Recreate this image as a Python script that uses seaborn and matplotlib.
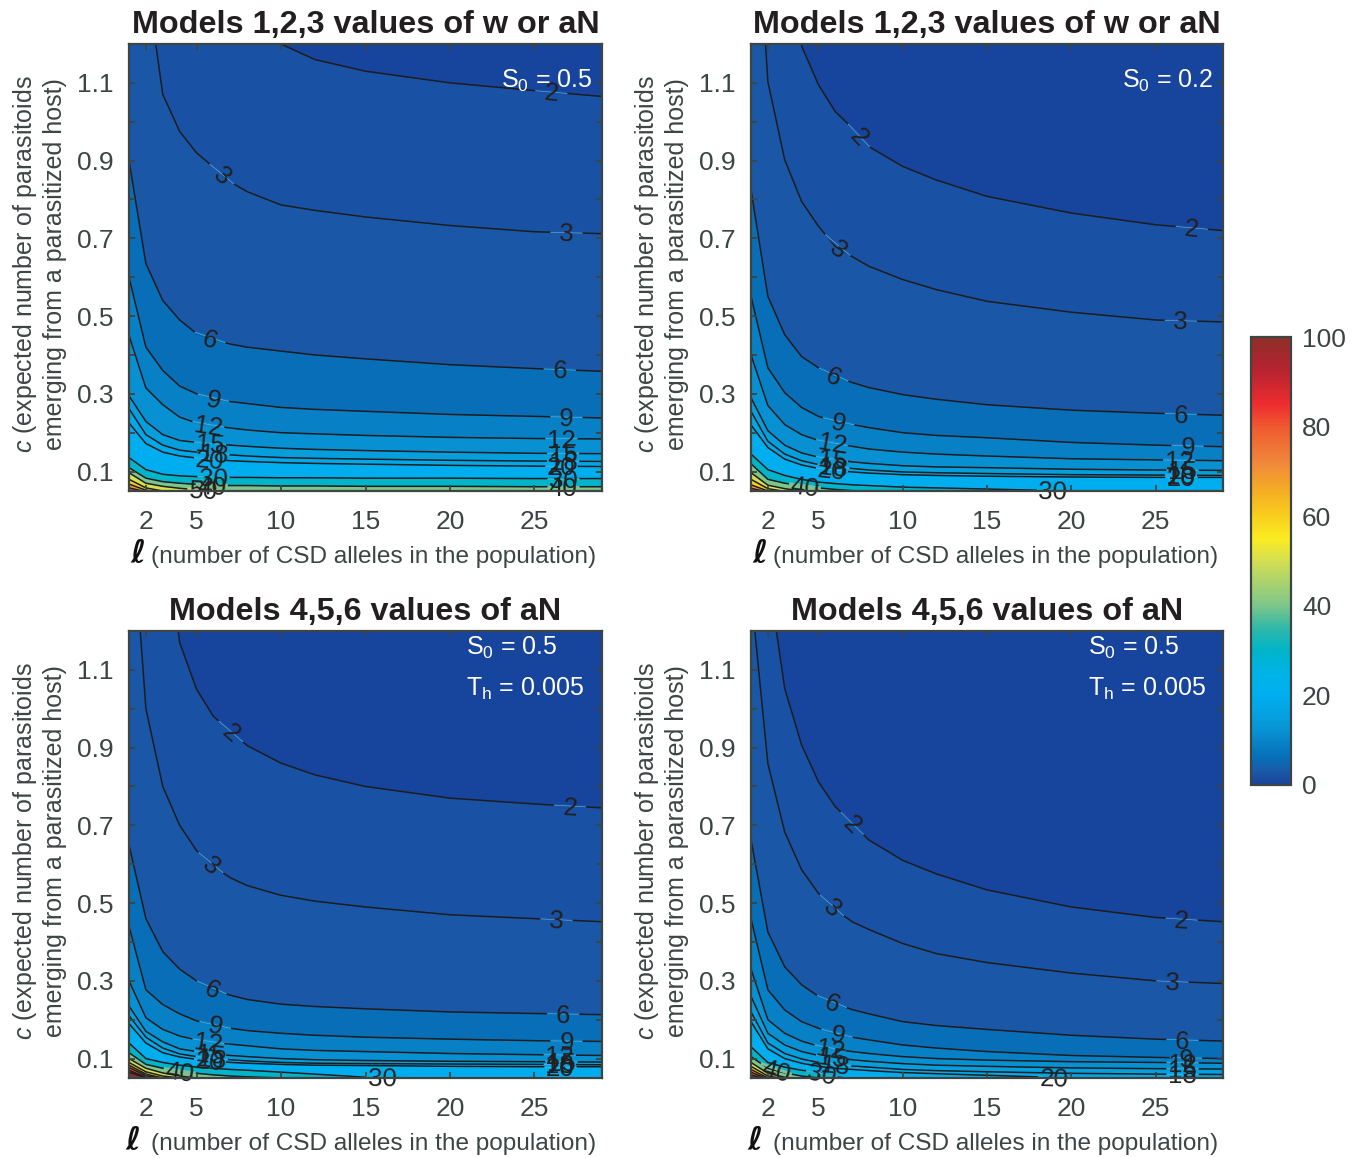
import numpy as np
import pandas as pd
import matplotlib
matplotlib.use('Agg')
import matplotlib.pyplot as plt
from matplotlib.colors import LinearSegmentedColormap, Normalize
from matplotlib.cm import ScalarMappable
import seaborn as sns

# number of alleles at which the contour heights were read
alleles = [1, 2, 3, 4, 5, 6, 7, 8, 10, 12, 15, 20, 25, 29]
levels = [2, 3, 6, 9, 12, 15, 18, 20, 30, 40, 50, 60, 70, 80, 90, 100]

# top left: S0 = 0.5
p1_l2 = [3.6, 2.8, 2.2, 1.85, 1.6, 1.45, 1.35, 1.28, 1.2, 1.16, 1.13, 1.10, 1.08, 1.065]
p1_l3 = [2.0, 1.38, 1.07, .975, .92, .883, .845, .82, .786, .772, .755, .733, .717, .712]
p1_l6 = [.90, .635, .54, .49, .455, .44, .428, .42, .41, .40, .39, .375, .365, .358]
p1_l9 = [.60, .42, .36, .32, .30, .288, .28, .275, .265, .26, .255, .247, .242, .238]
p1_l12 = [.45, .315, .272, .24, .225, .218, .212, .207, .2, .197, .193, .188, .185, .184]
p1_l15 = [.295, .229, .195, .18, .175, .171, .168, .165, .16, .157, .154, .15, .147, .146]
p1_l18 = [.262, .195, .168, .155, .15, .146, .143, .14, .136, .134, .132, .129, .127, .126]
p1_l20 = [.225, .172, .15, .14, .135, .131, .128, .126, .123, .121, .119, .116, .114, .113]
p1_l30 = [.136, .105, .093, .089, .087, .086, .085, .085, .084, .084, .083, .083, .082, .082]
p1_l40 = [.11, .083, .074, .07, .067, .065, .064, .064, .063, .063, .062, .062, .061, .061]
p1_l50 = [.097, .07, .062, .057, .053, .051, .049, .048, .047]
p1_l60 = [.08, .058, .05, .047]
p1_l70 = [.068, .052, .046]
p1_l80 = [.058, .048]
p1_l90 = [.05, .045]

# top right: S0 = 0.2
p2_l2 = [3.4, 2.2, 1.6, 1.195, 1.095, 1.026, .984, .936, .885, .85, .808, .765, .735, .72]
p2_l3 = [1.8, 1.103, .902, .795, .731, .679, .653, .628, .594, .568, .538, .51, .49, .485]
p2_l6 = [.825, .551, .452, .396, .367, .345, .329, .316, .298, .286, .272, .258, .25, .245]
p2_l9 = [.551, .367, .303, .265, .242, .229, .221, .213, .20, .193, .187, .175, .168, .164]
p2_l12 = [.40, .27, .221, .195, .18, .172, .165, .158, .15, .145, .14, .133, .13, .128]
p2_l15 = [.29, .205, .168, .148, .137, .13, .125, .121, .115, .112, .11, .106, .104, .103]
p2_l18 = [.255, .178, .145, .128, .118, .112, .108, .104, .099, .097, .095, .092, .091, .09]
p2_l20 = [.22, .162, .132, .117, .108, .103, .099, .096, .092, .09, .088, .086, .085, .085]
p2_l30 = [.145, .105, .09, .08, .073, .069, .066, .064, .06, .058, .055, .05, .048, .047]
p2_l40 = [.12, .08, .07, .064, .058, .054, .051, .049, .047]
p2_l50 = [.097, .065, .056, .05, .047]
p2_l60 = [.08, .056, .049]
p2_l70 = [.066, .05]
p2_l80 = [.057, .047]
p2_l90 = [.05, .045]

# bottom left: S0 = 0.5, Th = 0.005
p3_l2 = [3.0, 2.0, 1.5, 1.17, 1.05, .98, .943, .905, .86, .83, .80, .77, .755, .745]
p3_l3 = [1.6, 1.0, .80, .70, .635, .595, .565, .545, .52, .505, .49, .47, .46, .452]
p3_l6 = [.65, .46, .375, .33, .30, .278, .263, .252, .24, .234, .228, .22, .216, .213]
p3_l9 = [.44, .277, .239, .215, .197, .187, .178, .172, .165, .16, .155, .15, .146, .144]
p3_l12 = [.30, .205, .175, .158, .148, .142, .137, .133, .125, .121, .118, .113, .11, .108]
p3_l15 = [.235, .17, .143, .125, .118, .112, .108, .105, .1, .097, .095, .093, .092, .091]
p3_l18 = [.21, .155, .127, .112, .105, .1, .097, .094, .09, .088, .087, .086, .085, .084]
p3_l20 = [.19, .14, .115, .104, .098, .094, .09, .088, .085, .083, .082, .08, .079, .079]
p3_l30 = [.14, .1, .09, .083, .078, .075, .072, .07, .065, .06, .052, .049, .047, .045]
p3_l40 = [.115, .085, .075, .067, .062, .058, .055, .053, .05, .045]
p3_l50 = [.1, .075, .063, .055, .05, .047]
p3_l60 = [.09, .066, .055, .05, .046]
p3_l70 = [.083, .06, .05, .046]
p3_l80 = [.077, .056, .048]
p3_l90 = [.07, .052, .047]
p3_l100 = [.065, .05, .045]

# bottom right: S0 = 0.5, Th = 0.005
p4_l2 = [2.4, 1.35, 1.052, .907, .812, .748, .705, .662, .61, .575, .534, .49, .463, .452]
p4_l3 = [1.3, .859, .683, .586, .525, .483, .452, .432, .396, .37, .347, .32, .30, .293]
p4_l6 = [.663, .426, .336, .29, .26, .242, .226, .215, .195, .185, .175, .16, .15, .145]
p4_l9 = [.46, .277, .225, .195, .178, .164, .155, .148, .135, .127, .118, .108, .103, .10]
p4_l12 = [.33, .2, .165, .145, .132, .124, .118, .113, .105, .1, .096, .092, .09, .088]
p4_l15 = [.26, .165, .135, .118, .108, .102, .097, .093, .087, .083, .08, .076, .074, .073]
p4_l18 = [.22, .14, .113, .099, .09, .085, .081, .078, .072, .069, .066, .062, .06, .059]
p4_l20 = [.195, .125, .1, .088, .08, .075, .072, .069, .064, .061, .057, .05, .047, .045]
p4_l30 = [.13, .09, .078, .07, .065, .053, .048, .046]
p4_l40 = [.105, .075, .063, .055, .05, .047]
p4_l50 = [.09, .062, .052, .047]
p4_l60 = [.08, .055, .048]
p4_l70 = [.072, .05]
p4_l80 = [.065, .047]
p4_l90 = [.058, .046]
p4_l100 = [.052, .045]

p1_curves = [p1_l2, p1_l3, p1_l6, p1_l9, p1_l12, p1_l15, p1_l18, p1_l20, p1_l30, p1_l40, p1_l50, p1_l60, p1_l70, p1_l80, p1_l90]
p2_curves = [p2_l2, p2_l3, p2_l6, p2_l9, p2_l12, p2_l15, p2_l18, p2_l20, p2_l30, p2_l40, p2_l50, p2_l60, p2_l70, p2_l80, p2_l90]
p3_curves = [p3_l2, p3_l3, p3_l6, p3_l9, p3_l12, p3_l15, p3_l18, p3_l20, p3_l30, p3_l40, p3_l50, p3_l60, p3_l70, p3_l80, p3_l90, p3_l100]
p4_curves = [p4_l2, p4_l3, p4_l6, p4_l9, p4_l12, p4_l15, p4_l18, p4_l20, p4_l30, p4_l40, p4_l50, p4_l60, p4_l70, p4_l80, p4_l90, p4_l100]

# inline labels: (level, allele count)
p1_labels = [(3, 6.5), (6, 5.8), (9, 6), (12, 5.7), (15, 5.8), (18, 6), (20, 5.8), (30, 6), (40, 5.9), (50, 5.4),
             (2, 26), (3, 26.9), (6, 26.5), (9, 26.9), (12, 26.6), (15, 26.7), (18, 26.7), (20, 26.6), (30, 26.7), (40, 26.7)]
p2_labels = [(2, 7.4), (3, 6.15), (6, 5.9), (9, 6.2), (12, 5.8), (15, 5.8), (18, 5.9), (20, 5.8), (40, 4.2), (30, 18.9),
             (2, 27.15), (3, 26.5), (6, 26.5), (9, 26.9), (12, 26.4), (15, 26.6), (18, 26.5), (20, 26.5)]
p3_labels = [(2, 7.03), (3, 5.85), (6, 5.9), (9, 6.1), (12, 5.7), (15, 5.8), (18, 5.9), (20, 5.8), (40, 4), (30, 16),
             (2, 27.1), (3, 26.3), (6, 26.7), (9, 26.9), (12, 26.5), (15, 26.6), (18, 26.5), (20, 26.5)]
p4_labels = [(2, 7.0), (3, 5.8), (6, 5.8), (9, 6.1), (12, 5.7), (15, 5.8), (18, 6), (30, 5.2), (40, 2.5), (20, 19),
             (2, 26.55), (3, 26), (6, 26.6), (9, 26.8), (12, 26.6), (15, 26.6), (18, 26.6)]

titles = ['Models 1,2,3 values of w or aN', 'Models 1,2,3 values of w or aN',
          'Models 4,5,6 values of aN', 'Models 4,5,6 values of aN']
x_ticks = [2, 5, 10, 15, 20, 25]
y_ticks = [.1, .2, .3, .4, .5, .6, .7, .8, .9, 1.0, 1.1]
y_ticklabels = ['0.1', '', '0.3', '', '0.5', '', '0.7', '', '0.9', '', '1.1']

sns.set_theme(style='ticks')
plt.rcParams['font.family'] = ['Liberation Sans', 'DejaVu Sans']
plt.rcParams['mathtext.fontset'] = 'custom'
plt.rcParams['mathtext.rm'] = 'Liberation Sans'
plt.rcParams['mathtext.it'] = 'Liberation Sans:italic'

W, H = 1357, 1158
grey = '#3c4544'
ink = '#231f20'

cmap_stops = [(0, '#17449c'), (3, '#1a5aa8'), (6, '#076fb8'), (9, '#0880c5'), (12, '#0792d3'), (15, '#059fde'),
              (20, '#00aeef'), (25, '#00b3e6'), (30, '#00b4c8'), (35, '#2fb8a8'), (40, '#7dc68b'), (50, '#d3de52'),
              (55, '#fbec22'), (60, '#f9cf1e'), (65, '#f5b222'), (72, '#f0883a'), (80, '#ef5a30'), (85, '#ee2d2f'),
              (93, '#b52331'), (100, '#8e2f27')]
cmap = LinearSegmentedColormap.from_list('fig', [(v / 100, c) for v, c in cmap_stops], N=256)
norm = Normalize(0, 100)

fig = plt.figure(figsize=(W / 100, H / 100), dpi=100)


def px_axes(x0, y0, x1, y1):
    return fig.add_axes([x0 / W, 1 - y1 / H, (x1 - x0) / W, (y1 - y0) / H])


def px_text(x, y, s, **kw):
    fig.text(x / W, 1 - y / H, s, **kw)


def pad(vals):
    # curves that leave through the bottom stay under the axis for the remaining columns
    return list(vals) + [0.04] * (len(alleles) - len(vals))


def draw_panel(ax, curves, labels, title):
    ax.set_xlim(1, 29)
    ax.set_ylim(0.05, 1.2)
    ax.set_facecolor(cmap(0.0))
    ax.set_axisbelow(False)
    rows = []
    for lev, vals in zip(levels, curves):
        full = pad(vals)
        ax.fill_between(alleles, 0, full, color=cmap(norm(lev)), lw=0, zorder=1)
        rows.append(pd.DataFrame({'l': alleles, 'c': full, 'level': lev}))
    long_df = pd.concat(rows)
    sns.lineplot(data=long_df, x='l', y='c', units='level', estimator=None, color='#1d1d1f',
                 lw=1.1, ax=ax, zorder=2)

    by_level = dict(zip(levels, curves))
    for lev, l in labels:
        full = pad(by_level[lev])
        c = np.interp(l, alleles, full)
        probe = np.array([l - 0.5, l + 0.5])
        p = ax.transData.transform(np.column_stack([probe, np.interp(probe, alleles, full)]))
        span = np.hypot(*(p[1] - p[0]))
        half = min(1.5, 16 / span)
        xs = np.array([l - half, l + half])
        ys = np.interp(xs, alleles, full)
        ax.plot(xs, ys, color=cmap(norm(lev)), lw=2.2, zorder=3, solid_capstyle='butt')
        ax.plot(xs, ys, color='#6fb2dc', lw=0.4, zorder=3)
        angle = np.degrees(np.arctan2(p[1, 1] - p[0, 1], p[1, 0] - p[0, 0]))
        ax.text(l, max(c, 0.05) - 0.005, str(lev), fontsize=18.5, color=ink, ha='center', va='center',
                rotation=angle, rotation_mode='anchor', clip_on=False, zorder=4)

    ax.set_xticks(x_ticks)
    ax.set_yticks(y_ticks)
    ax.set_yticklabels(y_ticklabels)
    ax.set_xlabel('')
    ax.set_ylabel('')
    ax.tick_params(axis='x', direction='in', top=True, length=4, width=1.3, color=grey,
                   labelsize=19, labelcolor=grey, pad=14)
    ax.tick_params(axis='y', direction='in', right=True, length=4, width=1.3, color=grey,
                   labelsize=19, labelcolor=grey, pad=11)
    for s in ax.spines.values():
        s.set_color(grey)
        s.set_linewidth(1.6)
        s.set_zorder(6)
    ax.set_title(title, fontsize=23.3, fontweight='bold', color=ink, pad=8)


boxes = [(129, 44, 602, 491), (751, 44, 1223, 491), (129, 631, 602, 1078), (751, 631, 1223, 1078)]
all_curves = [p1_curves, p2_curves, p3_curves, p4_curves]
all_labels = [p1_labels, p2_labels, p3_labels, p4_labels]

for box, curves, labs, title in zip(boxes, all_curves, all_labels, titles):
    ax = px_axes(*box)
    draw_panel(ax, curves, labs, title)
    x0, y0, x1, y1 = box
    px_text(x0 - 104, y0 + 220, r'$\mathit{c}$ (expected number of parasitoids',
            fontsize=18, color=grey, rotation=90, ha='center', va='center')
    px_text(x0 - 74, y0 + 220, 'emerging from a parasitized host)',
            fontsize=18, color=grey, rotation=90, ha='center', va='center')
    px_text(x0 + 22, y1 + 66, '(number of CSD alleles in the population)',
            fontsize=17.6, color=grey, ha='left', va='center')
    px_text(x0 + (1 if y0 < 100 else -4), y1 + 64, '\u2113', fontsize=23, color='#111111', fontweight='bold',
            style='italic', family='DejaVu Sans', ha='left', va='center')

white = dict(color='white', fontsize=18, ha='left', va='center')
px_text(501, 81, r'$\mathrm{S_0}$ = 0.5', **white)
px_text(1122, 81, r'$\mathrm{S_0}$ = 0.2', **white)
px_text(466, 648, r'$\mathrm{S_0}$ = 0.5', **white)
px_text(466, 689, r'$\mathrm{T_h}$ = 0.005', **white)
px_text(1088, 648, r'$\mathrm{S_0}$ = 0.5', **white)
px_text(1088, 689, r'$\mathrm{T_h}$ = 0.005', **white)

cax = px_axes(1251, 337, 1291, 785)
cb = fig.colorbar(ScalarMappable(norm=norm, cmap=cmap), cax=cax, ticks=[0, 20, 40, 60, 80, 100])
cb.ax.tick_params(direction='in', length=5, width=1.3, color=grey, labelsize=19, labelcolor=grey, pad=8)
cb.outline.set_edgecolor(grey)
cb.outline.set_linewidth(1.6)

fig.savefig('out.png', dpi=100)
